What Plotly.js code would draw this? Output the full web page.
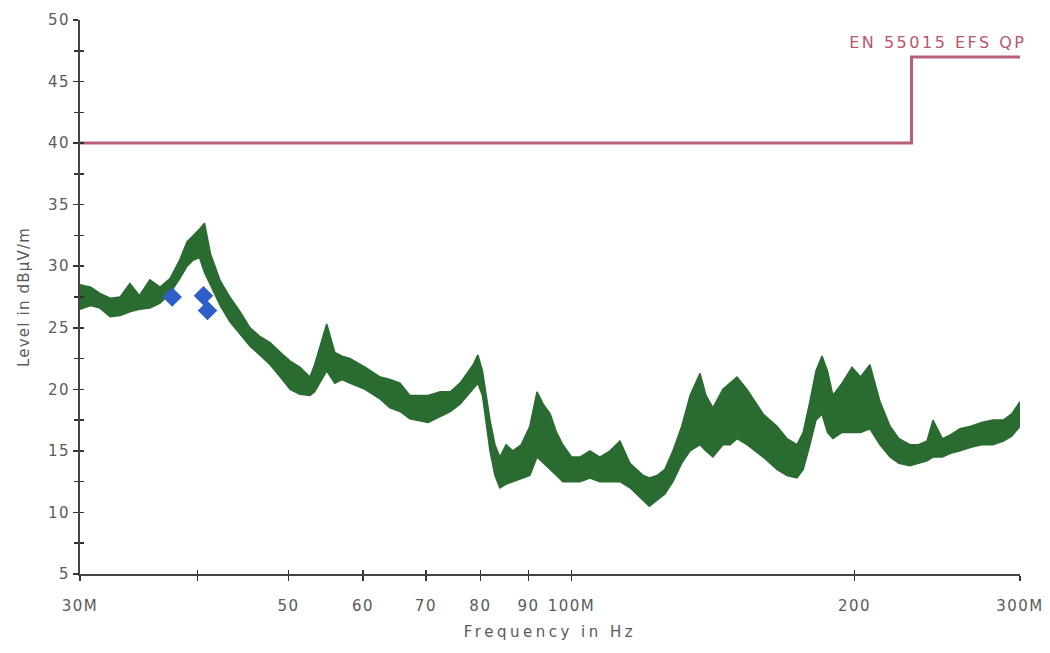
<!DOCTYPE html>
<html>
<head>
<meta charset="utf-8">
<script src="https://cdn.plot.ly/plotly-3.0.1.min.js"></script>
<style>
html,body{margin:0;padding:0;background:#fff;}
#chart{width:1050px;height:653px;}
#chart .xtick text, #chart .ytick text{letter-spacing:1.5px;}
#chart .g-xtitle text{letter-spacing:3.5px;}
#chart .g-ytitle text{letter-spacing:1.2px;}
#chart .annotation-text{letter-spacing:2.5px;}
</style>
</head>
<body>
<div id="chart"></div>
<script>
// Measured spectrum envelope (frequency in MHz, level in dBµV/m)
const freqMHz = [30.0,30.8,31.5,32.3,33.1,33.9,34.7,35.6,36.5,37.4,38.3,39.0,39.6,40.2,40.7,41.3,42.3,43.3,44.4,45.5,46.6,47.8,49.0,50.2,51.4,52.7,53.3,54.0,54.9,56.0,57.0,58.1,60.3,62.6,64.1,65.7,67.3,70.4,72.5,74.3,76.1,78.6,79.5,80.4,81.2,81.9,82.9,83.9,85.2,86.6,88.4,90.3,91.9,93.3,94.9,96.4,97.9,100.0,102.1,104.6,107.2,109.9,112.6,115.4,119.2,121.0,123.3,125.7,128.2,131.0,133.7,137.0,139.0,141.4,144.9,147.5,150.0,153.7,156.8,159.9,165.4,169.5,173.7,176.4,179.3,182.0,184.7,187.2,189.7,194.0,198.8,203.0,207.7,212.9,218.2,223.0,229.1,234.0,238.9,242.4,248.0,253.0,259.0,266.0,273.0,280.8,288.0,294.0,300.0];
const levelLow = [26.5,26.8,26.6,25.9,26.0,26.3,26.5,26.6,27.0,27.8,29.0,30.0,30.5,30.7,29.5,28.5,26.8,25.5,24.5,23.5,22.8,22.0,21.0,20.0,19.6,19.5,19.8,20.5,21.5,20.5,20.8,20.5,20.0,19.2,18.5,18.2,17.6,17.3,17.8,18.2,18.8,20.0,20.5,19.5,17.0,15.0,13.0,12.0,12.3,12.5,12.8,13.0,14.5,14.0,13.5,13.0,12.5,12.5,12.5,12.8,12.5,12.5,12.5,12.0,11.0,10.5,11.0,11.5,12.5,14.0,15.0,15.5,15.0,14.5,15.5,15.5,16.0,15.5,15.0,14.5,13.5,13.0,12.8,13.5,15.5,17.5,18.0,16.5,16.0,16.5,16.5,16.5,16.8,15.5,14.5,14.0,13.8,14.0,14.2,14.5,14.5,14.8,15.0,15.3,15.5,15.5,15.8,16.2,17.0];
const levelHigh = [28.5,28.3,27.8,27.4,27.5,28.6,27.6,28.9,28.3,29.0,30.5,32.0,32.5,33.0,33.5,31.0,28.8,27.5,26.3,25.0,24.3,23.8,23.0,22.3,21.8,21.0,22.0,23.5,25.3,23.0,22.7,22.5,21.8,21.0,20.8,20.5,19.5,19.5,19.8,19.8,20.5,22.0,22.8,21.5,19.5,17.5,15.5,14.5,15.5,15.0,15.5,17.0,19.8,18.8,18.0,16.5,15.5,14.5,14.5,15.0,14.5,15.0,15.8,14.0,13.0,12.8,13.0,13.5,15.0,17.0,19.5,21.3,19.5,18.5,20.0,20.5,21.0,20.0,19.0,18.0,17.0,16.0,15.5,16.5,19.0,21.5,22.7,21.5,19.5,20.5,21.8,21.0,22.0,19.0,17.0,16.0,15.5,15.5,15.8,17.5,16.0,16.3,16.8,17.0,17.3,17.5,17.5,18.0,19.0];
// Limit line EN 55015 EFS QP
const limitFreq = [30, 230, 230, 300];
const limitLevel = [40, 40, 47, 47];
// Final measurement points
const peakFreq = [37.6, 40.6, 41.0];
const peakLevel = [27.5, 27.6, 26.4];
// Axis ticks
const xTickVals = [30, 40, 50, 60, 70, 80, 90, 100, 200, 300];
const xTickText = ['30M', '', '50', '60', '70', '80', '90', '100M', '200', '300M'];
const yTickVals = [5, 10, 15, 20, 25, 30, 35, 40, 45, 50];

const green = '#2a6b31';
const traces = [
  {x: freqMHz, y: levelLow, type: 'scatter', mode: 'lines', line: {color: green, width: 1.5}, hoverinfo: 'skip', showlegend: false},
  {x: freqMHz, y: levelHigh, type: 'scatter', mode: 'lines', fill: 'tonexty', fillcolor: green, line: {color: green, width: 1.5}, showlegend: false},
  {x: limitFreq, y: limitLevel, xaxis: 'x2', yaxis: 'y2', type: 'scatter', mode: 'lines', line: {color: '#b85f78', width: 3}, showlegend: false},
  {x: peakFreq, y: peakLevel, type: 'scatter', mode: 'markers', marker: {symbol: 'diamond', size: 15, color: '#2f5ec8'}, showlegend: false}
];
const fam = 'DejaVu Sans, Verdana, sans-serif';
const tickFont = {family: fam, size: 15, color: '#5a5a5a'};
const titleFont = {family: fam, size: 15, color: '#5a5a5a'};
const xr = [Math.log10(30), Math.log10(300)];
const layout = {
  width: 1050, height: 653,
  margin: {l: 80, r: 30, t: 20, b: 79},
  paper_bgcolor: '#fff', plot_bgcolor: '#fff',
  showlegend: false,
  xaxis: {type: 'log', range: xr, tickmode: 'array', tickvals: xTickVals, ticktext: xTickText,
    ticks: 'outside', ticklen: 5, tickwidth: 1.5, tickcolor: '#333', showline: true, linecolor: '#444', linewidth: 2,
    showgrid: false, zeroline: false, tickfont: tickFont, ticklabelstandoff: 12,
    title: {text: 'Frequency in Hz', font: titleFont, standoff: 12}},
  yaxis: {range: [5, 50], tickmode: 'array', tickvals: yTickVals, ticks: 'outside', ticklen: 5, tickwidth: 1.5, tickcolor: '#333',
    minor: {dtick: 2.5, ticks: 'outside', ticklen: 4, tickcolor: '#333', tickwidth: 1.5},
    showline: true, linecolor: '#444', linewidth: 2, showgrid: false, zeroline: false, tickfont: tickFont, ticklabelstandoff: 0,
    title: {text: 'Level in dBµV/m', font: titleFont, standoff: 18}},
  xaxis2: {type: 'log', range: xr, overlaying: 'x', anchor: 'y2', tickmode: 'array', tickvals: xTickVals, ticks: 'inside', ticklen: 4, tickwidth: 1.5, tickcolor: '#333', showticklabels: false, showgrid: false, zeroline: false, showline: false},
  yaxis2: {range: [5, 50], overlaying: 'y', anchor: 'x2', tickmode: 'array', tickvals: yTickVals, ticks: 'inside', ticklen: 4, tickwidth: 1.5, tickcolor: '#333',
    minor: {dtick: 2.5, ticks: 'inside', ticklen: 4, tickcolor: '#333', tickwidth: 1.5},
    showticklabels: false, showgrid: false, zeroline: false, showline: false},
  annotations: [{text: 'EN 55015 EFS QP', xref: 'paper', yref: 'paper', x: 0.989, y: 0.96, xanchor: 'right', yanchor: 'middle', showarrow: false,
    font: {family: fam, size: 16, color: '#b8566c'}}]
};
Plotly.newPlot('chart', traces, layout, {displayModeBar: false, staticPlot: true});
</script>
</body>
</html>
